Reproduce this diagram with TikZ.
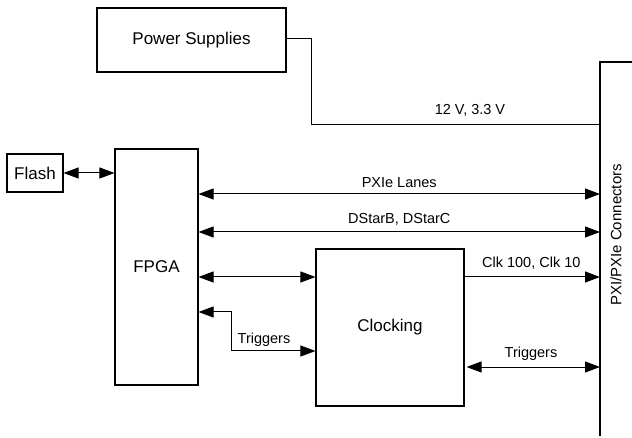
\documentclass[tikz,border=0pt]{standalone}
\usepackage{fontspec}
\setmainfont{Liberation Sans}
\usetikzlibrary{arrows.meta,calc}
\tikzset{
  box/.style={draw, line width=1.1pt, rectangle, inner sep=0pt, font=\fontsize{17}{20}\selectfont},
  wire/.style={line width=1pt},
  bi/.style={wire, {Triangle[length=15pt,width=11pt]}-{Triangle[length=15pt,width=11pt]}},
  uni/.style={wire, -{Triangle[length=15pt,width=11pt]}},
  lbl/.style={font=\fontsize{14.5}{17}\selectfont, inner sep=0pt}
}
\begin{document}
\begin{tikzpicture}[x=1pt,y=-1pt]
\useasboundingbox (0,0) rectangle (632,438);
% boxes
\node[box, minimum width=189pt, minimum height=64pt] (ps) at (191.5,40) {Power Supplies};
\node[box, minimum width=56pt, minimum height=38pt] (flash) at (35,173) {Flash};
\node[box, minimum width=83pt, minimum height=236pt] (fpga) at (156.5,267) {FPGA};
\node[box, minimum width=148pt, minimum height=157pt] (clk) at (390,327.5) {Clocking};
% connector bus
\coordinate (bustop) at (600,62);
\coordinate (busbot) at (600,436);
\coordinate (busedge) at (632,62);
\draw[wire, line width=1.2pt] (busedge) -- (bustop) -- (busbot);
% power
\coordinate (pwbend) at (311,39);
\draw[wire] (ps.east |- pwbend) -- (pwbend) -- (311,125) -- (bustop |- 0,125)
  node[lbl, pos=0.55, above=8pt] {12 V, 3.3 V};
% flash
\draw[bi] (flash.east) -- (fpga.west |- flash.east);
% lanes
\draw[bi] (fpga.east |- 0,194) -- (bustop |- 0,194) node[lbl, midway, above=6pt] {PXIe Lanes};
\draw[bi] (fpga.east |- 0,232) -- (bustop |- 0,232) node[lbl, midway, above=6pt] {DStarB, DStarC};
% fpga-clocking
\draw[bi] (fpga.east |- 0,277) -- (clk.west |- 0,277);
\draw[uni] (clk.east |- 0,277) -- (bustop |- 0,277) node[lbl, midway, above=7pt, xshift=-1pt] {Clk 100, Clk 10};
% triggers left
\draw[bi] (fpga.east |- 0,312) -- (231,312) -- (231,351) -- (clk.west |- 0,351);
\node[lbl] (trigL) at (264,340) {Triggers};
% triggers right
\draw[bi] ($(clk.east |- 0,367)+(2,0)$) -- (bustop |- 0,367);
\node[lbl] (trigR) at (531,354) {Triggers};
% vertical label
\node[lbl, font=\fontsize{15}{18}\selectfont, rotate=90] (pxi) at (616,235) {PXI/PXIe Connectors};
\end{tikzpicture}
\end{document}
